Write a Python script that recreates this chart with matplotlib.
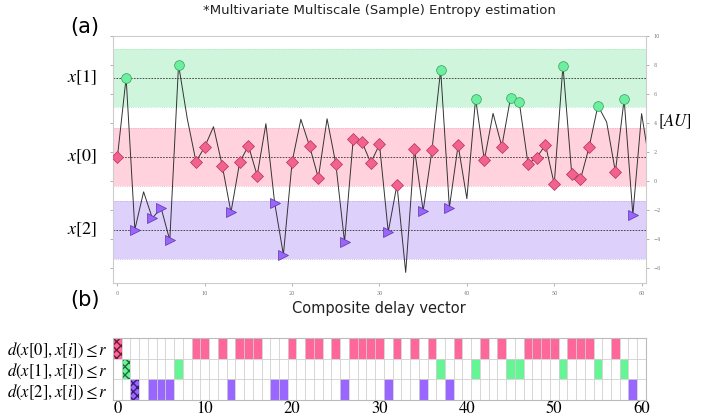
import numpy as np
import matplotlib
matplotlib.use("Agg")
import matplotlib.pyplot as plt
from matplotlib.transforms import blended_transform_factory

plt.rcParams['mathtext.fontset'] = 'stix'

# signal (index 61 only shows as the clipped line end)
signal = [1.65, 7.13, -3.33, -0.73, -2.55, -1.83, -4.07, 8.03, 4.3, 1.34,
          2.37, 3.75, 1.08, -2.14, 1.31, 2.44, 0.39, 3.96, -1.49, -5.06,
          1.34, 4.26, 2.41, 0.23, 4.3, 1.2, -4.18, 2.94, 2.69, 1.27,
          2.53, -3.49, -0.25, -6.28, 2.23, -2.04, 2.12, 7.68, -1.81, 2.48,
          -1.2, 5.68, 1.45, 4.67, 2.39, 5.75, 5.43, 1.2, 1.63, 2.51,
          -0.2, 7.96, 0.51, 0.12, 2.37, 5.2, 4.07, 0.65, 5.63, -2.32,
          4.65, 0.9]
n_points = 61
r = 2.0
templates = [0, 1, 2]
template_labels = ['$x[0]$', '$x[1]$', '$x[2]$']
row_labels = [r'$d(x[0],x[i]) \leq r$', r'$d(x[1],x[i]) \leq r$', r'$d(x[2],x[i]) \leq r$']

band_colors = ['#ffd2de', '#cff6dd', '#ddd0fb']
edge_colors = ['#f4a3bb', '#9fe8b8', '#b8a3f0']
mark_colors = ['#f2628f', '#6cf0a0', '#9a66f7']
mark_edges = ['#b8305a', '#3a9a5e', '#5a32b0']
cell_colors = ['#ff6699', '#66f595', '#9966ff']
hatch_colors = ['#6a1a35', '#1e6a3a', '#3a1a7a']
markers = ['D', 'o', '>']
msizes = [6.5, 7, 7.5]

sig = np.array(signal)
x = np.arange(len(sig))
centers = sig[templates]
match = np.abs(sig[:n_points, None] - centers[None, :]) <= r

fig = plt.figure(figsize=(7.09, 4.16), dpi=100)
ax = fig.add_axes([0.1594, 0.320, 0.7517, 0.5935])
axb = fig.add_axes([0.1594, 0.0385, 0.7517, 0.149])

# --- (a) signal with tolerance bands
for k, c in enumerate(centers):
    ax.axhspan(c - r, c + r, color=band_colors[k], lw=0, zorder=0)
    ax.axhline(c - r, color=edge_colors[k], ls=':', lw=0.6, zorder=1)
    ax.axhline(c + r, color=edge_colors[k], ls=':', lw=0.6, zorder=1)
    ax.axhline(c, color='#333333', ls=(0, (2, 1.5)), lw=0.6, zorder=1)
ax.plot(x, sig, color='#333333', lw=0.7, zorder=2)
for k in range(len(templates)):
    idx = np.where(match[:, k])[0]
    ax.plot(x[idx], sig[idx], ls='none', marker=markers[k], ms=msizes[k],
            mfc=mark_colors[k], mec=mark_edges[k], mew=0.5, zorder=3)

ax.set_xlim(-0.5, 60.5)
ax.set_ylim(-7, 10)
ax.set_xticks(range(0, 61, 10))
ax.set_yticks(range(-6, 11, 2))
ax.tick_params(labelsize=3.5, length=2, width=0.4, colors='#777777',
               left=True, right=True, labelleft=False, labelright=True)
for lab in ax.get_xticklabels() + ax.get_yticklabels():
    lab.set_family('DejaVu Serif')
for s in ax.spines.values():
    s.set_color('#cccccc')
    s.set_linewidth(0.8)

tr = blended_transform_factory(ax.transAxes, ax.transData)
for k, c in enumerate(centers):
    ax.text(-0.03, c, template_labels[k], transform=tr, ha='right', va='center',
            fontsize=13)

fig.text(0.976, 0.707, '$[AU]$', ha='right', va='center', fontsize=12)
fig.text(0.535, 0.975, '*Multivariate Multiscale (Sample) Entropy estimation',
         ha='center', va='center', fontsize=9.5, color='#222222')
fig.text(0.535, 0.258, 'Composite delay vector', ha='center', va='center',
         fontsize=10.5, color='#222222')
fig.text(0.12, 0.935, '(a)', ha='center', va='center', fontsize=15)
fig.text(0.12, 0.28, '(b)', ha='center', va='center', fontsize=15)

# --- (b) match matrix
for k in range(len(templates)):
    idx = np.where(match[:, k])[0]
    for i in idx:
        if i == templates[k]:
            axb.bar(i, 1, bottom=k, width=1, color=cell_colors[k],
                    edgecolor=hatch_colors[k], hatch='xxxx', lw=0, zorder=1)
        else:
            axb.bar(i, 1, bottom=k, width=1, color=cell_colors[k], lw=0, zorder=1)
for i in range(n_points + 1):
    axb.axvline(i - 0.5, color='#d0d0d0', lw=0.6, zorder=2)
for k in range(1, 3):
    axb.axhline(k, color='#d0d0d0', lw=0.6, zorder=2)
axb.set_xlim(-0.5, 60.5)
axb.set_ylim(3, 0)
axb.set_xticks(range(0, 61, 10))
axb.set_yticks([0.5, 1.5, 2.5])
axb.set_yticklabels(row_labels)
axb.tick_params(axis='y', length=0, labelsize=12, pad=4)
axb.tick_params(axis='x', length=0, labelsize=12, pad=0.5)
for lab in axb.get_xticklabels():
    lab.set_family('STIXGeneral')
for s in axb.spines.values():
    s.set_color('#bbbbbb')
    s.set_linewidth(0.8)

fig.savefig('out.png', dpi=100)
